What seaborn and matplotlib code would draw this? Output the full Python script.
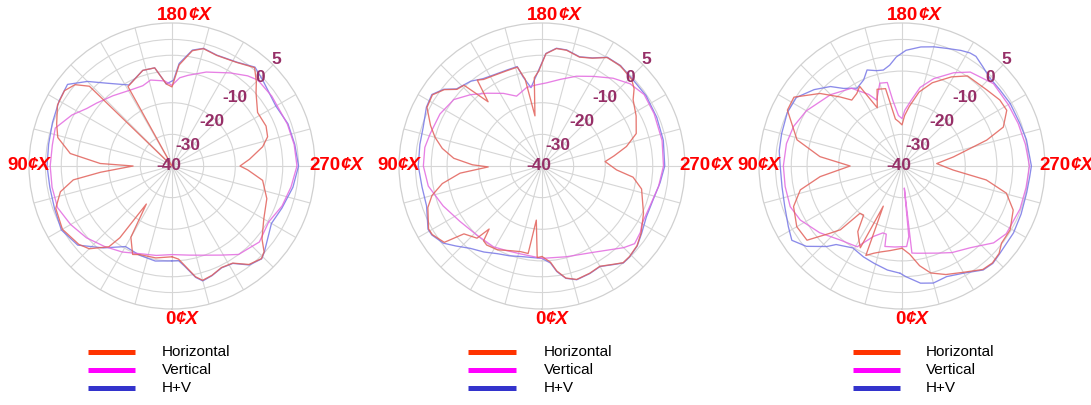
import numpy as np
import pandas as pd
import matplotlib
matplotlib.use("Agg")
import matplotlib.pyplot as plt
from matplotlib.lines import Line2D
import seaborn as sns

# ---------------- gain (dB) versus azimuth (degrees) ----------------
# Panel 1
p1_hv_deg = [0, 10, 20, 30, 40, 50, 60, 70, 80, 90, 100, 110, 120, 128, 135, 142, 152, 163, 170, 176,
             181, 184, 190, 195, 202, 212, 220, 227, 240, 250, 260, 270, 280, 291, 300, 313, 316, 322,
             328, 334, 340, 345, 348, 353, 356]
p1_hv_db = [-10, -9.5, -10, -10.6, -6.2, -1.1, 0.4, -0.5, -0.8, -0.5, -0.4, 0.2, 1.2, 1.9, -2.2, -6.8,
            -11, -8.4, -8.5, -14, -12.9, -7.5, -2.8, -1.5, -2.2, -1.3, 0.8, -0.6, -2.1, -1, -0.6, 0,
            -1.2, -2.8, -3.7, -0.1, 0.8, -0.3, -3.7, -4.2, -3.1, -2.4, -4, -8.2, -10]
p1_v_deg = [0, 10, 20, 30, 40, 50, 60, 70, 80, 90, 100, 108, 117, 124, 130, 140, 151, 160, 166, 175,
            180, 185, 190, 200, 212, 220, 225, 235, 250, 260, 270, 280, 290, 300, 311, 323, 331, 340, 349]
p1_v_db = [-12, -11.3, -10.5, -8.6, -6.8, -4.7, -3, -1.5, -1.5, -1.5, -1.6, -1.2, -4.5, -7.5, -9, -11,
           -12.6, -13, -12, -13, -14.5, -12, -10.9, -8.4, -5.3, -2.8, -1.6, -1.5, -1.2, -0.8, -0.5,
           -1.8, -3, -4.7, -3.4, -5, -7.8, -10, -11.3]
p1_h_deg = [0, 10, 20, 24, 30, 34, 36, 38, 45, 50, 60, 70, 77, 82, 85, 90, 92, 97, 104, 110, 118, 125,
            130, 134, 135, 150, 151, 163, 170, 176, 180, 184, 190, 195, 202, 212, 220, 225, 229, 238,
            247, 253, 258, 265, 270, 273, 279, 289, 300, 309, 313, 316, 322, 328, 334, 340, 345, 348,
            353, 356]
p1_h_db = [-11.3, -10.5, -10.2, -9.4, -14, -25.5, -12, -7.6, -3, -1.5, 0, -0.9, -3.8, -8.5, -17.3,
           -27.7, -17.3, -7.6, -2.8, -1.2, 1.0, 1.5, 0, -3.7, -40, -40, -11.3, -8.4, -8.5, -14, -15,
           -8, -3, -1.6, -2.3, -1.4, 0.6, -2.3, -4.8, -8.1, -7.7, -8.4, -10.7, -15.4, -18.5, -16, -11,
           -8.3, -6.5, -3.4, -0.2, 0.7, -0.5, -3.8, -4.3, -3.2, -2.6, -4.2, -8.5, -10.5]

# Panel 2
p2_hv_deg = [0, 12, 20, 27, 34, 41, 47, 52, 58, 61, 71, 80, 90, 100, 108, 117, 123, 128, 132, 140,
             146, 152, 160, 166, 168, 172, 178, 182, 187, 192, 199, 205, 211, 218, 227, 236, 247, 258,
             270, 278, 287, 296, 304, 310, 316, 320, 324, 330, 336, 343, 348, 352, 355]
p2_hv_db = [-10.8, -10.7, -9.8, -8.9, -7.2, -5.5, -2.9, -0.4, 1.1, 1.2, -1.4, -1.5, -0.9, -0.8, -0.5,
            1, 1.5, -0.6, -3.6, -5, -6.7, -7.4, -7.7, -7.6, -11.2, -15, -9.7, -4.4, -2.5, -2.5, -3.5,
            -2.3, 0.1, 0.3, -0.4, -0.3, -0.6, -0.8, -1.2, -2.3, -3.3, -3.3, -2, -0.7, -0.1, 0, -1.5,
            -3.3, -2.8, -2.4, -3.7, -6.3, -9.2]
p2_v_deg = [0, 14, 23, 31, 43, 56, 68, 80, 90, 99, 106, 117, 127, 135, 143, 152, 160, 169, 176, 183,
            192, 201, 210, 219, 227, 235, 245, 258, 270, 280, 290, 300, 304, 310, 315, 329, 345]
p2_v_db = [-10.8, -11.4, -11, -10.2, -10, -8.7, -6.3, -3.5, -2.5, -2.5, -3.2, -3.8, -5.1, -8.1, -11.2,
           -14, -16.5, -14.7, -14.3, -13.7, -12, -9.6, -7.3, -4.3, -1.9, -0.6, -0.9, -1.2, -1.6,
           -2.6, -3.6, -3.5, -2.5, -1.8, -3.5, -8.2, -10.3]
p2_h_deg = [0, 3, 6, 9, 14, 20, 28, 35, 38, 40, 42, 49, 52, 58, 61, 70, 75, 80, 85, 89, 91, 95, 100,
            105, 110, 117, 123, 128, 132, 136, 140, 143, 146, 152, 160, 166, 169, 172, 175, 178, 182,
            187, 192, 199, 205, 211, 218, 226, 230, 234, 242, 251, 257, 262, 266, 273, 277, 283, 295,
            304, 310, 316, 320, 324, 330, 336, 343, 348, 352, 355]
p2_h_db = [-11.4, -11, -22.8, -12, -12.1, -11.5, -10, -9.5, -10, -14, -9.3, -7.3, -0.8, 0.9, 1, -1.6,
           -4, -8, -14, -23, -18, -12, -8, -5, -2.5, 0.8, 1.3, -0.8, -3.8, -4.5, -13.5, -6, -7, -7.6,
           -7.9, -7.8, -12, -24, -12, -10, -4.5, -2.6, -2.6, -3.6, -2.4, 0, 0.2, -0.6, -2, -4.4, -6.3,
           -8.5, -12.6, -17, -20, -16.4, -11, -7.7, -4.6, -2.2, -0.8, -0.2, -0.1, -1.6, -3.4, -2.9,
           -2.5, -3.8, -6.5, -9.5]

# Panel 3
p3_hv_deg = [1, 8, 16, 23, 31, 40, 43, 50, 56, 62, 71, 80, 90, 97, 105, 115, 123, 131, 138, 143, 150,
             156, 160, 165, 169, 173, 177, 182, 189, 195, 201, 207, 211, 214, 219, 225, 232, 240, 250,
             258, 270, 275, 282, 292, 301, 312, 317, 322, 330, 338, 345, 351, 358]
p3_hv_db = [-6.1, -6.8, -8, -8.8, -9.8, -7.6, -5.2, -0.5, 2, 0.7, -0.8, -1.5, -1.5, -0.9, -0.6, 0,
            -0.2, -3.2, -6.2, -9.3, -11.6, -10.2, -7.7, -8.8, -9.1, -7.9, -5.5, -3.4, -1.9, -1, -0.2,
            1, 1.7, 1.8, 0.5, -0.7, -0.8, -0.5, -0.4, 0.2, 0.9, 0.5, 0.3, 0.6, 1.1, 1.5, 2.1, 1.7,
            -0.9, -2.3, -1.7, -2.5, -5]
p3_v_deg = [0, 5, 12, 13, 16, 22, 29, 40, 51, 62, 70, 80, 90, 101, 110, 120, 135, 147, 155, 159, 165,
            170, 172, 176, 180, 183, 188, 193, 200, 209, 216, 228, 240, 250, 260, 270, 280, 290, 303,
            310, 320, 330, 338, 350, 353.5, 354, 354.5, 356.7]
p3_v_db = [-14.5, -14.3, -14, -17.9, -18, -16, -10.8, -9.5, -6.5, -3.6, -2.4, -2.5, -2.5, -2.8, -3.5,
           -5.1, -8.1, -10.7, -15, -17.7, -12.9, -13.2, -19, -24, -25, -22.3, -19, -14.5, -10.6, -6.3,
           -3.3, -1.1, -1.2, -0.9, -0.4, 0.3, -0.2, -0.3, -0.7, -2.2, -6.3, -8.4, -10.3, -12, -12.3,
           -33, -17.6, -14.5]
p3_h_deg = [0, 8, 14, 18, 22, 25, 27, 30, 34, 38, 41.6, 44, 47, 52, 60, 69.5, 76.8, 82.6, 90, 96.5,
            104, 116, 122.5, 131.5, 138, 142.7, 148, 152, 157, 162, 168, 172, 176, 180, 183, 187, 193,
            200, 209, 216, 228, 236, 242, 249, 253, 260, 266, 274.5, 279.4, 284.6, 291.6, 300.6, 307.8,
            312, 317, 322, 330, 338, 345, 350, 355]
p3_h_db = [-14, -13, -12, -11, -9.5, -26, -11, -12.8, -15, -20.3, -20, -12, -8.8, -1.9, -1.6, -3.4, -7,
           -13.9, -23.6, -13.9, -5.8, 0.3, 0.5, -5.4, -10.6, -13.8, -13, -11.5, -20, -14.5, -15, -25,
           -26, -27, -24, -21, -16, -12, -7.8, -4.8, -4, -2.7, -2.5, -5.7, -12, -23.5, -29, -23.8, -13,
           -5.9, -2.2, -0.3, -0.2, 1.3, 1.9, 1.5, -1.2, -3, -5, -8, -12]

series_names = ["Horizontal", "Vertical", "H+V"]
ring_values = [-30, -20, -10, -5, 0]
ring_labels = ["-40", "-30", "-20", "-10", "0", "5"]
angle_labels = ["0", "90", "180", "270"]
angle_suffix = "¢X"

# ---------------- styling ----------------
R_MIN, R_MAX = -40, 5.2
line_colors = {"H+V": "#7777e6", "Vertical": "#e36ae0", "Horizontal": "#e2615a"}
legend_colors = {"Horizontal": "#ff3300", "Vertical": "#ff00ff", "H+V": "#3333cc"}
draw_order = ["H+V", "Vertical", "Horizontal"]

sns.set_theme(style="white")
plt.rcParams["font.family"] = ["Liberation Sans", "DejaVu Sans"]

W, H = 1091, 405
fig = plt.figure(figsize=(W / 100, H / 100), dpi=100)

panels = [
    (172, 166, [(p1_h_deg, p1_h_db), (p1_v_deg, p1_v_db), (p1_hv_deg, p1_hv_db)], (88, 135, 162)),
    (542, 166, [(p2_h_deg, p2_h_db), (p2_v_deg, p2_v_db), (p2_hv_deg, p2_hv_db)], (468, 516, 544)),
    (902, 166, [(p3_h_deg, p3_h_db), (p3_v_deg, p3_v_db), (p3_hv_deg, p3_hv_db)], (853, 900, 926)),
]
RAD = 143  # plot radius in pixels


def to_frame(curves):
    rows = []
    for name, (deg, db) in zip(series_names, curves):
        deg = list(deg) + [deg[0] + 360]
        db = list(db) + [db[0]]
        for d, g in zip(deg, db):
            rows.append({"theta": np.deg2rad(d), "gain": g, "series": name})
    return pd.DataFrame(rows)


for cx, cy, curves, (lx0, lx1, tx) in panels:
    ax = fig.add_axes([(cx - RAD) / W, (H - cy - RAD) / H, 2 * RAD / W, 2 * RAD / H],
                      projection="polar")
    ax.set_theta_zero_location("S")
    ax.set_theta_direction(-1)
    ax.set_facecolor("white")

    df = to_frame(curves)
    sns.lineplot(data=df, x="theta", y="gain", hue="series", hue_order=draw_order,
                 palette=line_colors, sort=False, estimator=None, legend=False,
                 linewidth=0.95, alpha=0.85, ax=ax)
    ax.set_xlabel("")
    ax.set_ylabel("")
    ax.set_ylim(R_MIN, R_MAX)

    ax.set_yticks(ring_values)
    ax.set_yticklabels([])
    ax.set_xticks(np.deg2rad(np.arange(0, 360, 15)))
    ax.set_xticklabels([])
    ax.grid(True, color="#d6d6d6", linewidth=0.8)
    ax.spines["polar"].set_color("#d0d0d0")
    ax.spines["polar"].set_linewidth(0.9)

    # radial value labels along the upper-right diagonal
    for txt, (dx, dy) in zip(ring_labels, [(-3, 0), (16, 21), (40, 44), (63, 69), (88, 89), (104, 107)]):
        ax.text(0.5 + dx / (2 * RAD), 0.5 + dy / (2 * RAD), txt, transform=ax.transAxes,
                ha="center", va="center", fontsize=12.5, fontweight="bold", color="#962f67")

    # azimuth labels: number followed by an italic unit mark
    for txt, (dx, dy) in zip(angle_labels, [(-7, -154), (-165, 0), (-15, 151), (137, 0)]):
        num = ax.text(0.5 + dx / (2 * RAD), 0.5 + dy / (2 * RAD), txt, transform=ax.transAxes,
                      ha="left", va="center", fontsize=13.5, fontweight="bold", color="#ff0000")
        ax.annotate(angle_suffix, xy=(1, 0.5), xycoords=num, ha="left", va="center",
                    fontsize=13.5, fontweight="bold", fontstyle="italic", color="#ff0000")

    # legend block under the panel
    for i, name in enumerate(series_names):
        y = 1 - (352 + 18 * i) / H
        fig.add_artist(Line2D([lx0 / W, lx1 / W], [y, y], transform=fig.transFigure,
                              color=legend_colors[name], linewidth=3.6, solid_capstyle="butt"))
        fig.text(tx / W, y, name, ha="left", va="center", fontsize=11, color="black")

fig.savefig("out.png", dpi=100)
